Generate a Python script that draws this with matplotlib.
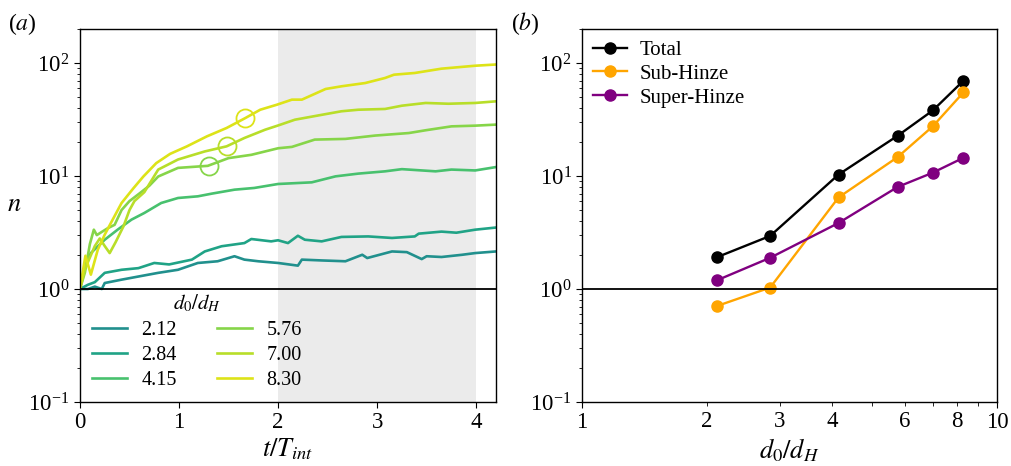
import numpy as np
import matplotlib
matplotlib.use("Agg")
import matplotlib.pyplot as plt
from matplotlib.ticker import LogLocator, FixedLocator, NullFormatter, FixedFormatter

plt.rcParams['font.family'] = 'serif'
plt.rcParams['font.serif'] = ['Liberation Serif', 'DejaVu Serif']
plt.rcParams['mathtext.fontset'] = 'stix'

# panel (a): number of bubbles vs time, one curve per d0/dH
ratios = ['2.12', '2.84', '4.15', '5.76', '7.00', '8.30']
colors = ['#21908d', '#20a386', '#48c16e', '#86d549', '#b8de29', '#dde318']

t_212 = [0, 0.08, 0.15, 0.22, 0.25, 0.42, 0.59, 0.79, 0.99, 1.19, 1.39, 1.56, 1.66, 1.80, 2.0,
         2.2, 2.24, 2.44, 2.68, 2.85, 2.9, 3.15, 3.3, 3.45, 3.5, 3.65, 3.86, 3.99, 4.2]
n_212 = [1, 1.0, 1.05, 1.0, 1.13, 1.21, 1.29, 1.39, 1.48, 1.70, 1.76, 1.95, 1.82, 1.76, 1.70,
         1.61, 1.82, 1.79, 1.76, 2.01, 1.88, 2.15, 2.12, 1.84, 1.95, 1.92, 2.01, 2.08, 2.15]

t_284 = [0, 0.08, 0.15, 0.25, 0.42, 0.59, 0.75, 0.9, 1.13, 1.26, 1.43, 1.66, 1.73, 1.93, 2.0,
         2.1, 2.2, 2.27, 2.44, 2.64, 2.91, 3.15, 3.38, 3.42, 3.65, 3.8, 3.99, 4.2]
n_284 = [1, 1.09, 1.15, 1.39, 1.48, 1.53, 1.70, 1.65, 1.82, 2.15, 2.39, 2.55, 2.77, 2.64, 2.7,
         2.55, 2.96, 2.73, 2.64, 2.89, 2.92, 2.83, 2.92, 3.09, 3.22, 3.15, 3.35, 3.5]

t_415 = [0, 0.05, 0.11, 0.25, 0.38, 0.52, 0.65, 0.82, 0.99, 1.19, 1.33, 1.56, 1.76, 2.0,
         2.34, 2.58, 2.81, 3.08, 3.25, 3.59, 3.75, 3.99, 4.2]
n_415 = [1, 1.6, 2.08, 2.73, 3.35, 4.11, 4.71, 5.77, 6.39, 6.61, 6.98, 7.57, 7.84, 8.5,
         8.79, 9.93, 10.5, 11.0, 11.5, 11.0, 11.4, 11.2, 12.0]

t_576 = [0, 0.05, 0.1, 0.14, 0.17, 0.22, 0.28, 0.35, 0.42, 0.5, 0.6, 0.7, 0.79, 0.99, 1.29,
         1.5, 1.73, 2.0, 2.14, 2.37, 2.68, 2.98, 3.32, 3.49, 3.75, 3.99, 4.2]
n_576 = [1, 1.4, 2.5, 3.35, 3.0, 3.2, 3.45, 3.7, 5.0, 6.0, 7.0, 8.2, 9.9, 11.8, 12.3,
         14.4, 15.4, 17.6, 18.1, 21.0, 21.3, 22.8, 24.0, 25.4, 27.5, 27.9, 28.5]

t_700 = [0, 0.05, 0.1, 0.15, 0.2, 0.25, 0.3, 0.36, 0.44, 0.5, 0.55, 0.65, 0.79, 0.99, 1.26,
         1.48, 1.66, 1.87, 2.0, 2.17, 2.41, 2.64, 2.81, 3.08, 3.25, 3.49, 3.72, 3.99, 4.2]
n_700 = [1, 1.5, 1.9, 2.4, 2.8, 2.4, 2.08, 2.6, 3.6, 5.0, 6.0, 7.2, 11.4, 14.0, 16.5,
         18.3, 21.7, 25.7, 28.0, 31.5, 34.4, 37.4, 38.6, 39.2, 41.9, 44.3, 43.6, 44.3, 45.8]

t_830 = [0, 0.055, 0.11, 0.18, 0.25, 0.33, 0.42, 0.54, 0.64, 0.77, 0.91, 1.08, 1.28, 1.48,
         1.67, 1.82, 1.99, 2.14, 2.24, 2.48, 2.64, 2.88, 3.08, 3.17, 3.38, 3.65, 3.99, 4.2]
n_830 = [1, 1.97, 1.34, 2.23, 3.03, 4.11, 5.77, 7.8, 9.9, 13.0, 15.7, 18.3, 22.4, 26.6,
         32.6, 38.6, 42.8, 47.4, 47.4, 58.9, 62.2, 66.5, 73.7, 78.8, 81.6, 89.1, 94.6, 97.0]

t_series = [t_212, t_284, t_415, t_576, t_700, t_830]
n_series = [n_212, n_284, n_415, n_576, n_700, n_830]

# circled points on the three largest cases
circ_t = [1.30, 1.48, 1.67]
circ_n = [12.3, 18.3, 32.6]
circ_idx = [3, 4, 5]

# panel (b): final counts vs d0/dH
d_ratio = [2.12, 2.84, 4.15, 5.76, 7.00, 8.30]
n_total = [1.92, 2.95, 10.3, 22.7, 38.0, 69.7]
n_sub = [0.71, 1.03, 6.46, 14.7, 27.5, 55.0]
n_super = [1.20, 1.89, 3.84, 8.0, 10.7, 14.5]

fig = plt.figure(figsize=(10.11, 4.66), dpi=100)
ax1 = fig.add_axes([0.0791, 0.1373, 0.4115, 0.8005])
ax2 = fig.add_axes([0.5757, 0.1373, 0.4105, 0.8005])

ax1.axvspan(2, 4, color='#ebebeb', zorder=0, lw=0)
for t, n, c, lab in zip(t_series, n_series, colors, ratios):
    ax1.plot(t, n, color=c, lw=1.9, label=lab)
for tt, nn, i in zip(circ_t, circ_n, circ_idx):
    ax1.plot(tt, nn, 'o', mfc='none', mec=colors[i], ms=13, mew=1.3)
ax1.axhline(1, color='black', lw=1.3)
ax1.set_yscale('log')
ax1.set_ylim(0.1, 200)
ax1.set_xlim(0, 4.2)
ax1.set_xticks([0, 1, 2, 3, 4])
ax1.set_xlabel('$t/T_{int}$', fontsize=19, labelpad=2)
ax1.set_ylabel('$n$', fontsize=19, rotation=0, labelpad=10)
ax1.legend(ncol=2, frameon=False, title='$d_0/d_H$', fontsize=14.5, title_fontsize=15,
           loc='lower left', handlelength=1.75, columnspacing=2.0, labelspacing=0.3,
           handletextpad=0.7, borderaxespad=0.2)

ax2.plot(d_ratio, n_total, 'o-', color='black', lw=1.7, ms=8, label='Total')
ax2.plot(d_ratio, n_sub, 'o-', color='orange', lw=1.7, ms=8, label='Sub-Hinze')
ax2.plot(d_ratio, n_super, 'o-', color='purple', lw=1.7, ms=8, label='Super-Hinze')
ax2.axhline(1, color='black', lw=1.3)
ax2.set_xscale('log')
ax2.set_yscale('log')
ax2.set_xlim(1, 10)
ax2.set_ylim(0.1, 200)
ax2.xaxis.set_major_locator(FixedLocator([1, 10]))
ax2.xaxis.set_major_formatter(FixedFormatter(['1', '10']))
ax2.xaxis.set_minor_locator(FixedLocator([2, 3, 4, 5, 6, 7, 8, 9]))
ax2.xaxis.set_minor_formatter(FixedFormatter(['2', '3', '4', '', '6', '', '8', '']))
ax2.set_xlabel('$d_0/d_H$', fontsize=19, labelpad=2)
ax2.legend(frameon=False, fontsize=15, loc='upper left', handlelength=1.6,
           labelspacing=0.2, handletextpad=0.6, borderaxespad=0.15)

for ax in (ax1, ax2):
    ax.yaxis.set_major_locator(LogLocator(base=10, numticks=10))
    ax.yaxis.set_minor_locator(LogLocator(base=10, subs=np.arange(2, 10), numticks=20))
    ax.yaxis.set_minor_formatter(NullFormatter())
    ax.tick_params(which='both', labelsize=16.5, direction='out')
    ax.tick_params(which='major', length=4)
    ax.tick_params(which='minor', length=2.5)
    for s in ax.spines.values():
        s.set_linewidth(1.0)
ax2.tick_params(axis='x', which='minor', labelsize=16.5, length=3)

fig.text(0.008, 0.935, '($a$)', fontsize=17)
fig.text(0.505, 0.935, '($b$)', fontsize=17)

fig.savefig('out.png', dpi=100)
